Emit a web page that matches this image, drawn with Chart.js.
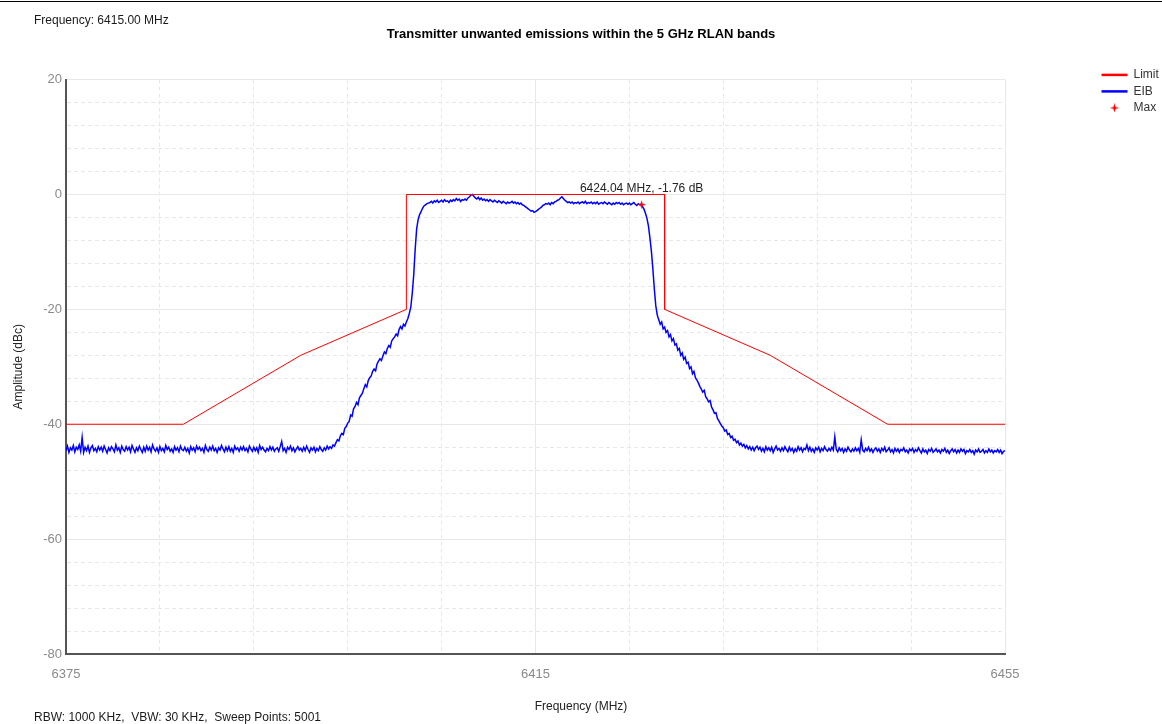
<!DOCTYPE html>
<html>
<head>
<meta charset="utf-8">
<script src="https://cdn.jsdelivr.net/npm/chart.js@4.4.1/dist/chart.umd.min.js"></script>
<style>
  body { margin: 0; background: #fff; font-family: "Liberation Sans", Arial, sans-serif; }
  #wrap { position: relative; width: 1162px; height: 724px; }
  #topline { position: absolute; left: 0; top: 1px; width: 1162px; height: 1px; background: #000; }
  .note { position: absolute; left: 34px; font-size: 12px; line-height: 14px; color: #1a1a1a; white-space: pre; }
</style>
</head>
<body>
<div id="wrap">
  <canvas id="chart" width="1162" height="724"></canvas>
  <div id="topline"></div>
  <div class="note" style="top: 13px">Frequency: 6415.00 MHz</div>
  <div class="note" style="top: 710px">RBW: 1000 KHz,  VBW: 30 KHz,  Sweep Points: 5001</div>
</div>
<script>
// Sweep grid of the trace below (every 0.125 MHz)
const sweepStart = 6375;
const sweepStep = 0.125;

// Limit mask
const limitFreq = [6375, 6385, 6395, 6404, 6404, 6426, 6426, 6435, 6445, 6455];
const limitLevel = [-40, -40, -28, -20, 0, 0, -20, -28, -40, -40];

// EIB trace in dBc, one row per MHz (8 values)
const eibLevel = [
  -44.6, -43.8, -44.9, -44.1, -44.5, -43.7, -44.8, -44.0, // 6375
  -44.4, -43.6, -44.7, -42.3, -44.9, -44.0, -44.6, -43.8, // 6376
  -44.9, -44.1, -43.7, -44.6, -44.2, -44.8, -43.9, -44.5, // 6377
  -44.0, -44.7, -43.8, -44.4, -45.0, -44.1, -44.6, -43.9, // 6378
  -44.3, -44.8, -43.6, -44.5, -44.1, -44.9, -43.8, -44.4, // 6379
  -44.7, -43.9, -44.5, -44.0, -44.8, -43.7, -44.3, -44.9, // 6380
  -44.1, -44.6, -43.8, -44.4, -44.9, -44.0, -44.7, -43.8, // 6381
  -44.5, -44.0, -44.8, -43.6, -44.3, -44.7, -44.1, -44.9, // 6382
  -43.9, -44.6, -44.2, -44.8, -43.7, -44.4, -44.0, -44.7, // 6383
  -44.3, -44.9, -43.9, -44.5, -44.1, -44.8, -43.8, -44.4, // 6384
  -44.6, -44.0, -44.7, -44.2, -45.0, -43.9, -44.5, -44.1, // 6385
  -44.8, -43.8, -44.4, -44.0, -44.6, -44.2, -44.9, -43.7, // 6386
  -44.4, -44.7, -44.0, -44.5, -43.8, -44.6, -44.2, -44.9, // 6387
  -44.1, -44.5, -43.7, -44.3, -44.8, -44.0, -44.6, -43.9, // 6388
  -44.7, -44.2, -44.9, -43.8, -44.4, -44.1, -44.7, -44.0, // 6389
  -44.5, -43.9, -44.6, -44.2, -44.8, -43.8, -44.3, -44.7, // 6390
  -44.0, -44.6, -44.1, -44.9, -43.7, -44.4, -44.0, -44.5, // 6391
  -44.8, -44.2, -44.6, -43.9, -44.5, -44.0, -44.7, -44.3, // 6392
  -44.1, -44.7, -43.9, -43.0, -44.6, -44.2, -44.9, -44.0, // 6393
  -44.4, -43.8, -44.6, -44.1, -44.8, -44.3, -43.9, -44.5, // 6394
  -44.2, -44.7, -44.0, -44.6, -43.8, -44.4, -44.9, -44.1, // 6395
  -44.5, -44.0, -44.8, -44.2, -44.6, -43.9, -44.4, -44.7, // 6396
  -44.1, -44.5, -43.8, -44.3, -43.9, -44.2, -43.6, -43.8, // 6397
  -43.2, -42.7, -42.9, -42.0, -41.6, -41.8, -40.7, -40.4, // 6398
  -39.8, -39.5, -38.4, -38.6, -37.3, -36.9, -36.2, -36.6, // 6399
  -35.4, -35.0, -34.6, -33.8, -33.1, -33.5, -32.4, -31.9, // 6400
  -31.6, -30.8, -30.4, -30.7, -29.5, -29.0, -28.6, -28.9, // 6401
  -28.1, -27.4, -27.7, -26.8, -26.3, -26.6, -25.5, -25.1, // 6402
  -24.8, -24.3, -24.6, -23.5, -23.0, -23.4, -22.6, -22.9, // 6403
  -22.2, -21.6, -20.7, -19.6, -17.2, -14.0, -9.5, -6.0,   // 6404
  -4.4, -3.5, -3.0, -2.4, -2.0, -1.8, -1.6, -1.5,         // 6405
  -1.4, -1.2, -1.5, -1.1, -1.3, -1.0, -1.4, -1.2,         // 6406
  -1.0, -1.3, -0.9, -1.2, -1.1, -1.4, -1.0, -1.2,         // 6407
  -0.9, -1.1, -0.7, -1.0, -0.8, -1.2, -0.9, -1.0,         // 6408
  -0.8, -1.0, -0.6, -0.4, -0.1, 0.0, -0.3, -0.6,          // 6409
  -0.8, -0.5, -0.9, -0.6, -1.0, -0.8, -1.1, -0.9,         // 6410
  -1.2, -0.9, -1.1, -1.3, -1.0, -1.2, -1.4, -1.1,         // 6411
  -1.3, -1.5, -1.2, -1.4, -1.6, -1.3, -1.5, -1.4,         // 6412
  -1.2, -1.5, -1.3, -1.6, -1.4, -1.7, -1.5, -1.8,         // 6413
  -1.9, -2.1, -2.3, -2.5, -2.7, -2.9, -2.8, -3.1,         // 6414
  -3.0, -2.8, -2.6, -2.4, -2.2, -1.9, -1.8, -1.6,         // 6415
  -1.7, -1.5, -1.8, -1.4, -1.6, -1.3, -1.2, -1.0,         // 6416
  -0.9, -0.6, -0.4, -0.7, -1.0, -1.2, -1.4, -1.3,         // 6417
  -1.5, -1.3, -1.6, -1.4, -1.5, -1.3, -1.6, -1.4,         // 6418
  -1.3, -1.5, -1.2, -1.6, -1.4, -1.5, -1.3, -1.6,         // 6419
  -1.4, -1.6, -1.3, -1.7, -1.5, -1.4, -1.6, -1.3,         // 6420
  -1.5, -1.7, -1.4, -1.6, -1.8, -1.5, -1.7, -1.4,         // 6421
  -1.6, -1.4, -1.7, -1.5, -1.8, -1.6, -1.5, -1.7,         // 6422
  -1.5, -1.8, -1.6, -1.4, -1.7, -1.9, -1.6, -1.8,         // 6423
  -1.76, -2.1, -2.6, -3.3, -4.2, -5.5, -7.6, -9.9,        // 6424
  -13.0, -16.5, -19.4, -21.0, -21.8, -22.6, -22.2, -23.4, // 6425
  -23.1, -24.0, -23.7, -24.8, -24.4, -25.5, -25.1, -26.2, // 6426
  -26.0, -27.1, -26.8, -28.0, -27.6, -28.7, -28.3, -29.4, // 6427
  -29.2, -30.3, -30.0, -31.2, -30.8, -31.9, -32.3, -32.8, // 6428
  -33.4, -33.9, -34.4, -34.1, -35.2, -35.6, -36.1, -35.9, // 6429
  -37.0, -37.5, -38.1, -38.0, -39.0, -39.4, -39.9, -40.3, // 6430
  -40.6, -41.2, -41.0, -41.8, -41.6, -42.3, -42.1, -42.8, // 6431
  -42.6, -43.2, -42.9, -43.6, -43.3, -43.8, -43.5, -44.1, // 6432
  -43.7, -44.3, -43.9, -44.5, -44.0, -44.6, -44.1, -43.8, // 6433
  -44.4, -44.0, -44.7, -44.2, -44.8, -43.9, -44.5, -44.1, // 6434
  -44.6, -44.0, -44.9, -44.3, -43.8, -44.5, -44.2, -44.7, // 6435
  -44.1, -44.6, -43.9, -44.4, -44.8, -44.0, -44.6, -44.2, // 6436
  -44.9, -44.3, -44.7, -43.9, -44.5, -44.1, -44.8, -44.2, // 6437
  -44.4, -43.6, -44.6, -44.0, -44.7, -44.3, -44.9, -44.1, // 6438
  -44.5, -44.0, -44.8, -44.2, -44.6, -43.9, -44.4, -44.7, // 6439
  -44.2, -44.6, -44.0, -44.5, -42.2, -44.4, -44.8, -44.1, // 6440
  -44.6, -44.2, -44.9, -44.3, -44.7, -44.0, -44.5, -44.8, // 6441
  -44.3, -44.7, -44.1, -44.6, -44.2, -44.9, -42.7, -44.5, // 6442
  -44.8, -44.2, -44.6, -44.0, -44.7, -44.3, -44.9, -44.4, // 6443
  -44.1, -44.7, -44.3, -44.9, -44.2, -44.6, -44.0, -44.8, // 6444
  -44.5, -44.1, -44.8, -44.4, -45.0, -44.2, -44.7, -44.3, // 6445
  -44.9, -44.4, -44.6, -44.1, -44.8, -44.5, -45.0, -44.3, // 6446
  -44.6, -44.2, -44.9, -44.4, -44.7, -44.1, -44.6, -45.0, // 6447
  -44.3, -44.8, -44.5, -45.1, -44.4, -44.7, -44.2, -44.9, // 6448
  -44.6, -44.3, -44.8, -44.5, -45.0, -44.4, -44.7, -44.2, // 6449
  -44.9, -44.5, -45.1, -44.6, -44.3, -44.8, -44.4, -45.0, // 6450
  -44.5, -44.9, -44.3, -44.7, -44.4, -45.1, -44.6, -44.8, // 6451
  -44.4, -44.9, -44.6, -45.2, -44.5, -44.8, -44.3, -44.9, // 6452
  -44.7, -44.4, -45.0, -44.6, -44.9, -44.3, -44.8, -44.5, // 6453
  -45.0, -44.6, -44.8, -44.4, -44.9, -44.5, -45.1, -44.7, // 6454
  -44.6                                                   // 6455
];

// Peak marker
const maxFreq = [6424.04];
const maxLevel = [-1.76];

// Labelled ticks (grid is finer)
const xLabels = [6375, 6415, 6455];
const yLabels = [-80, -60, -40, -20, 0, 20];

Chart.defaults.font.family = '"Liberation Sans", Arial, sans-serif';

// four point star for the Max marker
function makeStar(size, color) {
    const c = document.createElement('canvas');
    c.width = size;
    c.height = size;
    const g = c.getContext('2d');
    const m = size / 2;
    g.fillStyle = color;
    g.beginPath();
    for (let k = 0; k < 8; k++) {
        const a = k * Math.PI / 4 - Math.PI / 2;
        const r = k % 2 === 0 ? size / 2 : size / 6;
        g.lineTo(m + r * Math.cos(a), m + r * Math.sin(a));
    }
    g.closePath();
    g.fill();
    return c;
}
const star = makeStar(9, '#ff0000');

const isMajorX = v => Math.abs((v - 6375) % 40) < 1e-6;
const isMajorY = v => Math.abs(v % 20) < 1e-6;

const maxLabel = {
    id: 'maxLabel',
    afterDatasetsDraw(chart) {
        const pt = chart.getDatasetMeta(2).data[0];
        const ctx = chart.ctx;
        ctx.save();
        ctx.font = '12px "Liberation Sans", Arial, sans-serif';
        ctx.fillStyle = '#222';
        ctx.textAlign = 'center';
        ctx.textBaseline = 'middle';
        ctx.fillText(`${maxFreq[0].toFixed(2)} MHz, ${maxLevel[0].toFixed(2)} dB`, pt.x, pt.y - 16);
        ctx.restore();
    }
};

new Chart(document.getElementById('chart'), {
    type: 'line',
    data: {
        datasets: [{
            label: 'Limit',
            data: limitFreq.map((f, i) => ({x: f, y: limitLevel[i]})),
            borderColor: '#ff0000',
            borderWidth: 1,
            pointRadius: 0,
            pointStyle: 'line',
        }, {
            label: 'EIB',
            data: eibLevel.map((v, i) => ({x: sweepStart + i * sweepStep, y: v})),
            borderColor: '#0000ff',
            borderWidth: 1.5,
            pointRadius: 0,
            pointStyle: 'line',
        }, {
            label: 'Max',
            data: maxFreq.map((f, i) => ({x: f, y: maxLevel[i]})),
            showLine: false,
            pointStyle: star,
            pointRadius: 4,
            borderColor: '#ff0000',
            backgroundColor: '#ff0000',
            order: -1,
        }]
    },
    options: {
        responsive: false,
        animation: false,
        events: [],
        layout: {padding: 0},
        scales: {
            x: {
                type: 'linear',
                min: 6375,
                max: 6455,
                ticks: {
                    stepSize: 8,
                    maxTicksLimit: 50,
                    autoSkip: false,
                    maxRotation: 0,
                    padding: 13,
                    color: '#8a8a8a',
                    font: {size: 13},
                    callback: v => xLabels.includes(Math.round(v)) ? String(Math.round(v)) : '',
                },
                grid: {color: '#e8e8e8', drawTicks: false},
                border: {
                    color: '#555',
                    width: 2,
                    dash: ctx => (ctx.tick && !isMajorX(ctx.tick.value)) ? [4, 3] : [],
                },
                afterFit: s => { s.height = 45.6; },
            },
            y: {
                min: -80,
                max: 20,
                ticks: {
                    stepSize: 4,
                    maxTicksLimit: 50,
                    padding: 4,
                    color: '#8a8a8a',
                    font: {size: 13},
                    callback: v => yLabels.includes(Math.round(v)) ? String(Math.round(v)) : '',
                },
                grid: {color: '#e8e8e8', drawTicks: false},
                border: {
                    color: '#555',
                    width: 2,
                    dash: ctx => (ctx.tick && !isMajorY(ctx.tick.value)) ? [4, 3] : [],
                },
                title: {
                    display: true,
                    text: 'Amplitude (dBc)',
                    color: '#222',
                    font: {size: 12},
                    padding: {top: 11, bottom: 0},
                },
                afterFit: s => { s.width = 66; },
            },
            y2: {
                position: 'right',
                ticks: {display: false},
                grid: {display: false, drawOnChartArea: false},
                border: {display: false},
                afterFit: s => { s.width = 92; },
            },
        },
        plugins: {
            tooltip: {enabled: false},
            title: {
                display: true,
                text: 'Transmitter unwanted emissions within the 5 GHz RLAN bands',
                color: '#000',
                font: {size: 13, weight: 'bold'},
                padding: {top: 27, bottom: 37},
            },
            subtitle: {
                display: true,
                position: 'bottom',
                text: 'Frequency (MHz)',
                color: '#222',
                font: {size: 12, weight: 'normal'},
                padding: {top: 0, bottom: 10},
            },
            legend: {
                position: 'right',
                align: 'start',
                maxWidth: 65,
                title: {
                    display: true,
                    text: '',
                    font: {size: 12},
                    padding: {top: 50, bottom: 0},
                },
                labels: {
                    usePointStyle: true,
                    pointStyleWidth: 26,
                    padding: 4.5,
                    color: '#333',
                    font: {size: 12},
                    sort: (a, b) => a.datasetIndex - b.datasetIndex,
                    generateLabels: chart => {
                        const items = Chart.defaults.plugins.legend.labels.generateLabels(chart);
                        items.forEach(it => { if (it.datasetIndex < 2) it.lineWidth = 2.5; });
                        return items;
                    },
                },
            },
        },
    },
    plugins: [maxLabel],
});
</script>
</body>
</html>
